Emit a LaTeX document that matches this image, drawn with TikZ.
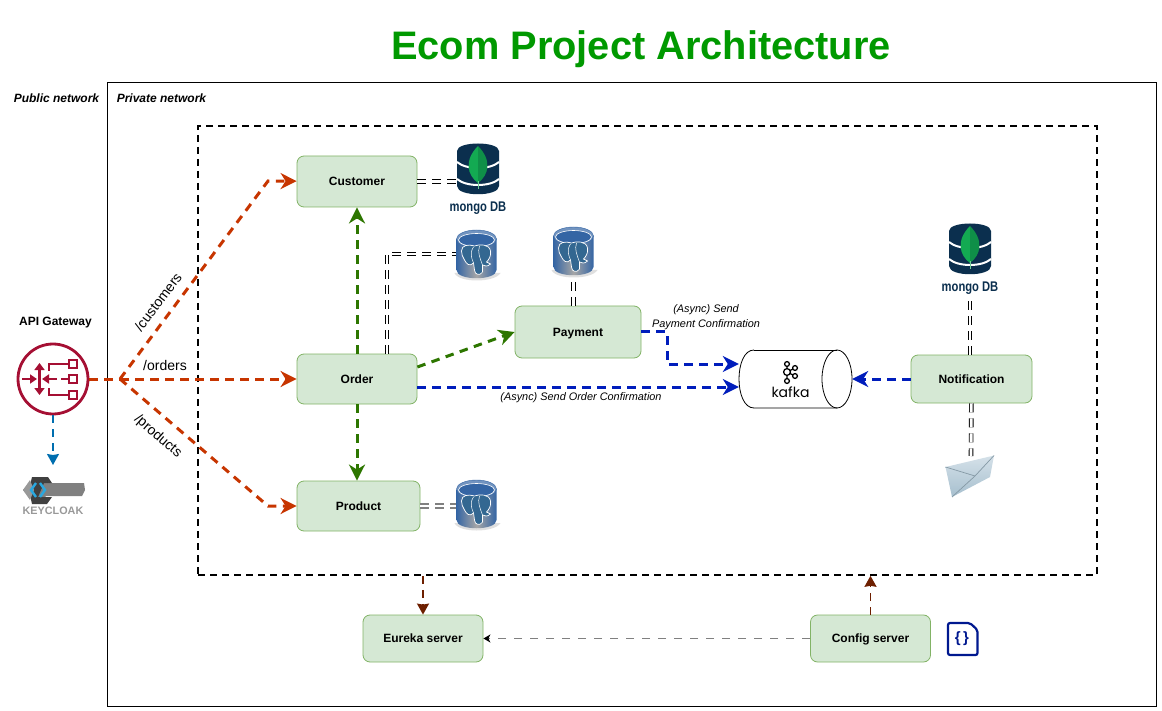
\documentclass[tikz,border=0pt]{standalone}
\usepackage{fontspec}
\setmainfont{Liberation Sans}
\newfontfamily\kafkafont{Poppins}
\usetikzlibrary{
    arrows.meta,
    calc,
    positioning
}
\definecolor{boxfill}{HTML}{D5E8D4}
\definecolor{boxline}{HTML}{82B366}
\definecolor{redflow}{HTML}{C73500}
\definecolor{greenflow}{HTML}{2D7600}
\definecolor{blueflow}{HTML}{001DBC}
\definecolor{brownflow}{HTML}{6D1F00}
\definecolor{tealflow}{HTML}{006EAF}
\definecolor{gwred}{HTML}{A50F33}
\definecolor{mongoblue}{HTML}{0B2F4E}
\definecolor{mongoleaf}{HTML}{13AA52}
\definecolor{mongoleafdark}{HTML}{0F8F48}
\definecolor{pgblue}{HTML}{336791}
\definecolor{pgtop}{HTML}{3465A4}
\definecolor{docblue}{HTML}{00188F}
\definecolor{titlegreen}{HTML}{009900}
\definecolor{maillight}{HTML}{D5E1E9}
\definecolor{maildark}{HTML}{A6BFCE}
\definecolor{keyblue}{HTML}{29A8E0}
\tikzset{
    box/.style={draw=boxline, fill=boxfill, rounded corners=7, line width=0.8,
        font=\bfseries\fontsize{12}{14}\selectfont, inner sep=0, text depth=0},
    flow/.style={dashed, dash pattern=on 8.5 off 6.5, line width=3,
        -{Stealth[length=16, width=16, inset=5]}},
    plainflow/.style={dashed, dash pattern=on 8.5 off 6.5, line width=3},
    thinflow/.style={dashed, dash pattern=on 8 off 6, line width=1.6,
        -{Stealth[length=11, width=12, inset=1]}},
    dbline/.style={dashed, dash pattern=on 9 off 6, double=white, draw=black,
        line width=0.9, double distance=2.8},
    note/.style={font=\itshape\fontsize{10.9}{15}\selectfont, align=center, inner sep=0},
    route/.style={font=\fontsize{14}{16}\selectfont, inner sep=0},
    netlabel/.style={font=\bfseries\itshape\fontsize{12}{14}\selectfont, inner sep=0}
}
\newcommand{\mongoicon}[2]{
    \begin{scope}[shift={(#2)}]
        \node (#1) [minimum width=42, minimum height=50, inner sep=0] at (0, 0) {};
        \fill[mongoblue] (-21, -18) .. controls (-21, -28) and (21, -28) .. (21, -18) -- (21, 17)
            .. controls (21, 28) and (-21, 28) .. (-21, 17) -- cycle;
        \draw[white, line width=2] (-21, -7) .. controls (-12, 1) and (12, 1) .. (21, -7);
        \draw[white, line width=2] (-21, 10) .. controls (-12, 18) and (12, 18) .. (21, 10);
        \fill[mongoleaf] (0, -23) .. controls (-14, -9) and (-11, 6) .. (0, 14) -- cycle;
        \fill[mongoleafdark] (0, -23) .. controls (14, -9) and (11, 6) .. (0, 14) -- cycle;
        \draw[mongoleaf!60, line width=1] (0, 12) -- (0, 20);
        \node[text=mongoblue, font=\bfseries\fontsize{14}{14}\selectfont, xscale=0.8, inner sep=0]
            at (0, 39) {mongo DB};
    \end{scope}
}
\newcommand{\pgicon}[2]{
    \begin{scope}[shift={(#2)}]
        \node (#1) [minimum width=41, minimum height=50, inner sep=0] at (0, 0) {};
        \fill[black!25, opacity=0.5] (-22, 19) .. controls (-18, 29) and (18, 29) .. (24, 19) -- cycle;
        \shade[left color=pgtop, right color=pgtop, middle color=black!35]
            (-20, -15) -- (20, -15) -- (20, 16) .. controls (20, 27) and (-20, 27) .. (-20, 16) -- cycle;
        \filldraw[fill=pgtop!70!white, draw=pgtop] (0, -15) ellipse [x radius=20, y radius=9];
        \filldraw[fill=pgtop, draw=white, line width=0.6] (0, -14) ellipse [x radius=18, y radius=6.5];
        \filldraw[fill=pgblue, draw=white, line width=0.7] (-15, -3)
            .. controls (-15, -9) and (-8, -10) .. (-2, -8)
            .. controls (3, -10) and (13, -10) .. (14, -3)
            .. controls (15, 2) and (12, 6) .. (10, 8) -- (14, 10)
            .. controls (11, 13) and (8, 12) .. (6, 11) -- (6, 18)
            .. controls (4, 22) and (-2, 21) .. (-2, 16) -- (-3, 9)
            .. controls (-7, 13) and (-10, 10) .. (-12, 6)
            .. controls (-14, 3) and (-15, 0) .. (-15, -3) -- cycle;
        \draw[white, line width=0.5] (-3, -7) .. controls (-7, -1) and (-5, 4) .. (-3, 9)
            (3, -8) .. controls (1, -2) and (3, 3) .. (6, 11);
    \end{scope}
}
\begin{document}
\begin{tikzpicture}[x=1pt, y=-1pt]
    \useasboundingbox (0, 0) rectangle (1162, 711);
    \node (title) [text=titlegreen, font=\bfseries\fontsize{39.8}{46}\selectfont, inner sep=0] at (641, 49) {Ecom Project Architecture};
    \node (public) [netlabel] at (56.5, 98) {Public network};
    \node (private) [netlabel] at (161.5, 98) {Private network};
    \node (privatebox) [draw, line width=1, minimum width=1049, minimum height=623, inner sep=0] at (631.5, 394.5) {};
    \node (zone) [draw, dashed, dash pattern=on 7 off 5, line width=1.6, minimum width=899, minimum height=449, inner sep=0] at (647.5, 350.5) {};

    \node (customer) [box, minimum width=120, minimum height=51] at (357, 181.5) {Customer};
    \node (order) [box, minimum width=120, minimum height=50] at (357, 379) {Order};
    \node (product) [box, minimum width=123, minimum height=50] at (358.5, 506) {Product};
    \node (payment) [box, minimum width=126, minimum height=52] at (578, 332) {Payment};
    \node (notification) [box, minimum width=121, minimum height=48] at (971.5, 379) {Notification};
    \node (eureka) [box, minimum width=120, minimum height=47] at (423, 638.5) {Eureka server};
    \node (config) [box, minimum width=120, minimum height=47] at (870.5, 638.5) {Config server};

    % kafka tube
    \node (kafka) [minimum width=113, minimum height=58, inner sep=0] at (795.5, 379) {};
    \draw[line width=0.8] (754, 350) .. controls (734, 350) and (734, 408) .. (754, 408) -- (837, 408);
    \draw[line width=0.8] (754, 350) -- (837, 350);
    \draw[line width=0.8] (837, 379) ellipse [x radius=15, y radius=29];
    \node (kafkaname) [font=\kafkafont\fontsize{14}{16}\selectfont, inner sep=0] at (790.5, 392) {kafka};
    \draw[line width=1.3] (787, 364) -- (787, 381) (787, 372) -- (795, 368) (787, 372) -- (795, 376);
    \foreach \px/\py/\pr in {787/364/2.4, 787/372/3.4, 787/381/2.4, 795/368/2.4, 795/376/2.4} {
        \filldraw[fill=white, line width=1.3] (\px, \py) circle (\pr);
    }

    \mongoicon{customerdb}{478, 169}
    \mongoicon{notificationdb}{970, 249}
    \pgicon{orderdb}{476.5, 254}
    \pgicon{paymentdb}{573.5, 251}
    \pgicon{productdb}{476.5, 504}

    % gateway icon
    \node (gateway) [circle, draw=gwred, line width=2.8, minimum size=70, inner sep=0] at (53, 379) {};
    \node (gatewayname) [font=\bfseries\fontsize{12}{14}\selectfont, inner sep=0] at (55.5, 323) {API Gateway};
    \begin{scope}[gwred, line width=2.2]
        \draw[-{Stealth[length=7, width=9, inset=0]}] (22, 379) -- (37, 379);
        \draw[{Stealth[length=7, width=10, inset=0]}-{Stealth[length=7, width=10, inset=0]}] (39.5, 363) -- (39.5, 395);
        \draw[-{Stealth[length=7, width=9, inset=0]}] (57, 379) -- (42, 379);
        \draw (61, 379) -- (68, 379);
        \draw (68, 364) -- (49, 364) -- (49, 371) (68, 395) -- (49, 395) -- (49, 388);
        \foreach \py in {364, 379, 395} {
            \draw[fill=white] (69, \py-4) rectangle (77, \py+4);
        }
    \end{scope}

    % keycloak icon
    \coordinate (keycloak) at (53, 477);
    \fill[black!50] (23, 490) -- (29, 483) -- (84, 483) -- (85, 490) -- (82, 496) -- (46, 496) -- (40, 504) -- (29, 497) -- cycle;
    \fill[black!75] (29, 490) -- (32, 477) -- (48, 477) -- (52, 483) -- (44, 483) -- (38, 497) -- (52, 497) -- (47, 504) -- (32, 504) -- cycle;
    \fill[black!40] (23, 490) -- (30, 480) -- (34, 490) -- (30, 500) -- cycle;
    \draw[keyblue, line width=2.4] (36, 483) -- (31, 490) -- (36, 497) (40, 483) -- (45, 490) -- (40, 497);
    \node (keycloakname) [text=black!40, font=\bfseries\fontsize{10.8}{13}\selectfont, inner sep=0] at (53, 511) {KEYCLOAK};

    % envelope
    \coordinate (mail) at (971, 456);
    \shade[top color=maillight, bottom color=maildark] (945.5, 467) -- (994, 455.5) -- (990, 477) -- (952, 497) -- cycle;
    \draw[maildark!80!black, line width=0.7] (945.5, 467) -- (975, 476) -- (994, 455.5) (952, 497) -- (975, 476);

    % config file icon
    \draw[docblue, line width=2.2, rounded corners=2] (948, 623) -- (970, 623) -- (977.5, 630) -- (977.5, 655) -- (948, 655) -- cycle;
    \node (configfile) [text=docblue, font=\bfseries\fontsize{15}{16}\selectfont, inner sep=0] at (962, 639) {\{\,\}};

    \coordinate (fork) at (120, 379);
    \coordinate (uppertop) at (268, 181);
    \coordinate (lowertop) at (268, 506);
    \coordinate (paymentbend) at (667, 332);

    \draw[plainflow, redflow] (gateway) -- (fork);
    \draw[flow, redflow] (fork) -- (order);
    \draw[flow, redflow] (fork) -- (uppertop) -- (customer);
    \draw[flow, redflow] (fork) -- (lowertop) -- (product);

    \draw[flow, greenflow] (order) -- (customer);
    \draw[flow, greenflow] (order) -- (product.north -| order);
    \draw[flow, greenflow] ($(order.east)+(0, -12)$) -- (payment.west);

    \draw[flow, blueflow] (payment.east) -- (paymentbend) |- ($(kafka.west)+(0, -15)$);
    \draw[flow, blueflow] ($(order.east)+(0, 8)$) -- ($(kafka.west)+(0, 8)$);
    \draw[flow, blueflow] (notification) -- (kafka);

    \draw[thinflow, tealflow, line width=1.4] (gateway) -- (keycloak |- 0, 465);
    \draw[thinflow, brownflow] (eureka.north |- zone.south) -- (eureka.north);
    \draw[thinflow, brownflow] (config.north) -- (zone.south -| config.north);
    \draw[dashed, dash pattern=on 8 off 8, line width=1.6, draw=black!50, -{Stealth[length=7, width=8, inset=2, black]}] (config) -- (eureka);

    \draw[dbline] (customer.east) -- (customer.east -| customerdb.west);
    \draw[dbline] (order.north) ++(30, 0) |- (orderdb.west);
    \draw[dbline] (payment.north -| paymentdb) -- ($(paymentdb.south)+(0, 4)$);
    \draw[dbline, draw=black!50, line width=1.4, double distance=2.6] (product.east) -- (product.east -| productdb.west);
    \draw[dbline] (notification.north -| notificationdb) -- ($(notificationdb.south)+(0, 22)$);
    \draw[dbline] (notification) -- (mail);

    \node (customersroute) [route, rotate=53] at (158, 302) {/customers};
    \node (ordersroute) [route] at (165, 365.5) {/orders};
    \node (productsroute) [route, rotate=-41] at (158, 436.5) {/products};
    \node (paymentnote) [note] at (706, 317) {(Async) Send\\Payment Confirmation};
    \node (ordernote) [note] at (581, 398) {(Async) Send Order Confirmation};
\end{tikzpicture}
\end{document}
